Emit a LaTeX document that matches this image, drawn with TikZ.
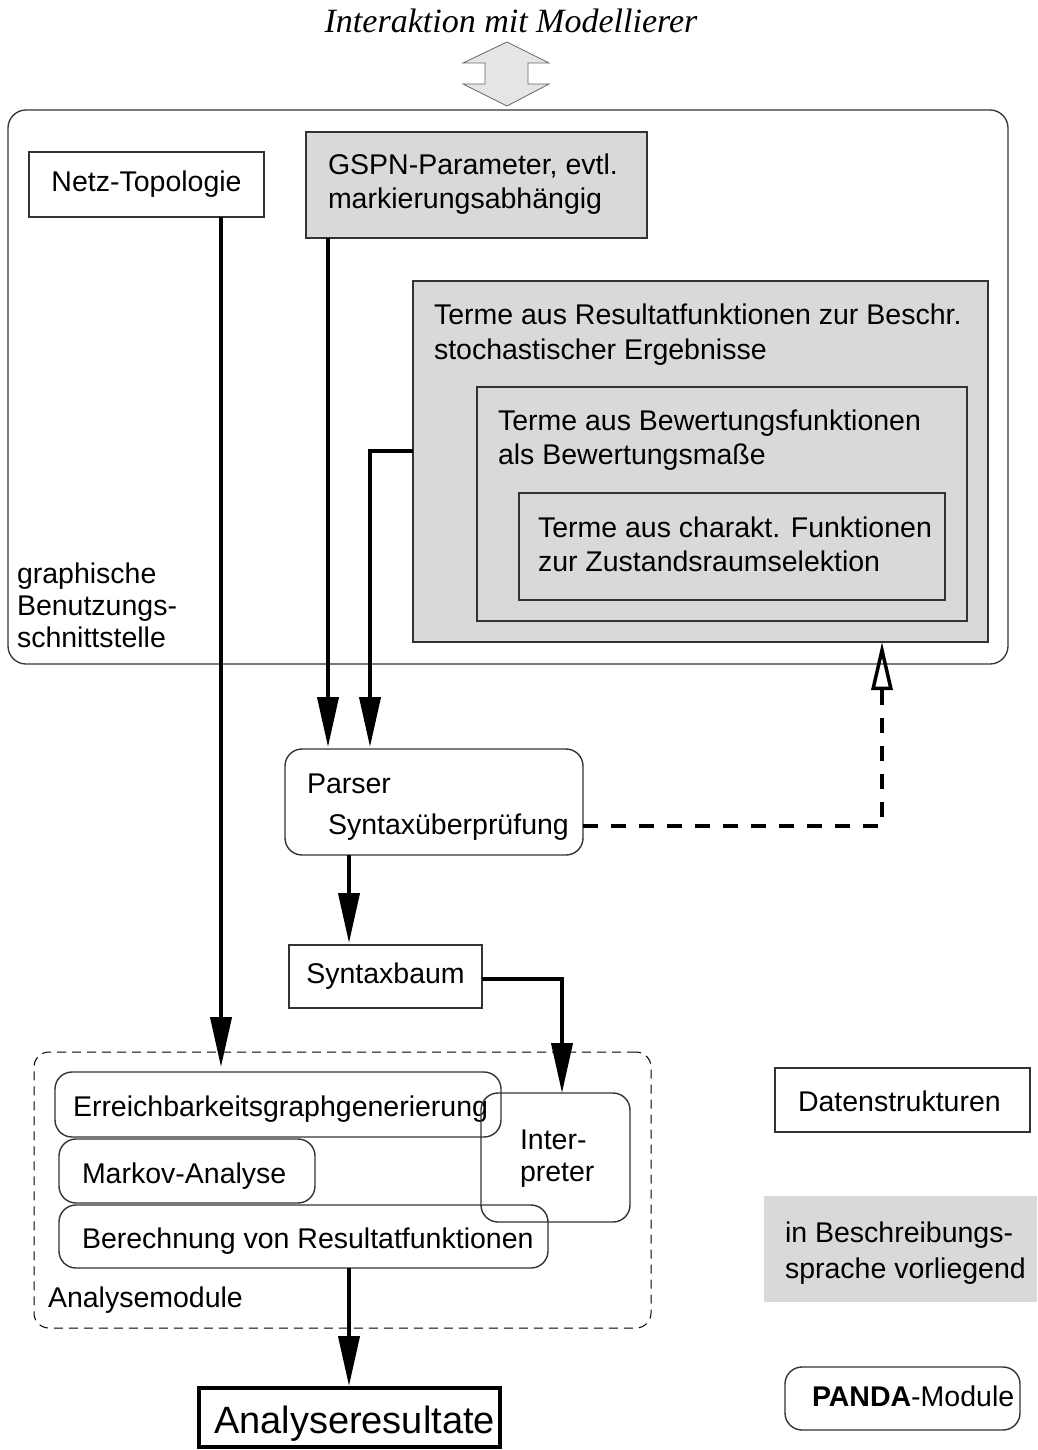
\documentclass[tikz,border=0pt]{standalone}
\usepackage{fontspec}
\setmainfont{Liberation Sans}
\newfontfamily\serifitalic{Liberation Serif}
\usetikzlibrary{arrows.meta}
% multi-line text block whose baseline is that of its first line
\newcommand{\stacked}[1]{\begin{tabular}[t]{@{}l@{}}#1\end{tabular}}

\begin{document}
\begin{tikzpicture}[x=1pt,y=-1pt,
  every node/.style={font=\fontsize{28.5}{34}\selectfont, inner sep=0pt, outer sep=0pt},
  frame/.style={draw=black!80, line width=1.4pt, rectangle, anchor=north west},
  shaded/.style={frame, fill=black!15},
  module/.style={frame, rounded corners=17pt},
  txt/.style={anchor=base west},
  flow/.style={line width=4pt, line join=miter, -{Triangle[length=50pt,width=21pt]}},
  feedback/.style={line width=3.5pt, dash pattern=on 15pt off 13pt,
                   -{Triangle[open,length=48pt,width=21pt]}},
]
\useasboundingbox (0,0) rectangle (1037,1450);

% ---- interaction with the modeller
\node[font=\serifitalic\itshape\fontsize{34}{38}\selectfont, anchor=base] (title) at (511,33) {Interaktion mit Modellierer};
\draw[fill=black!10, draw=black!60, line width=0.8pt]
  (507,42) -- (549,63) -- (528,63) -- (528,84) -- (549,84) -- (507,106)
  -- (463,84) -- (485,84) -- (485,63) -- (463,63) -- cycle;

% ---- graphical user interface
\node[frame, rounded corners=18pt, line width=1.3pt, minimum width=1000pt, minimum height=554pt] (gui) at (8,110) {};
\node[txt, font=\fontsize{28.5}{32}\selectfont] (guiText) at (17,583) {\stacked{graphische\\Benutzungs-\\schnittstelle}};

\node[frame, minimum width=235pt, minimum height=65pt] (netz) at (29,152) {Netz-Topologie};

\node[shaded, minimum width=341pt, minimum height=106pt] (gspn) at (306,132) {};
\node[txt] (gspnText) at (328,175) {\stacked{GSPN-Parameter, evtl.\\markierungsabhängig}};

\node[shaded, minimum width=575pt, minimum height=361pt] (terme) at (413,281) {};
\node[txt, font=\fontsize{28.5}{35}\selectfont] (termeText) at (434,324) {\stacked{Terme aus Resultatfunktionen zur Beschr.\\stochastischer Ergebnisse}};
\node[shaded, minimum width=490pt, minimum height=234pt] (bewert) at (477,387) {};
\node[txt] (bewertText) at (498,430) {\stacked{Terme aus Bewertungsfunktionen\\als Bewertungsmaße}};
\node[shaded, minimum width=426pt, minimum height=107pt] (charakt) at (519,493) {};
\node[txt] (charaktText) at (538,537) {\stacked{Terme aus charakt. Funktionen\\zur Zustandsraumselektion}};

% ---- parser and syntax tree
\node[module, minimum width=298pt, minimum height=106pt] (parser) at (285,749) {};
\node[txt] (parserText) at (307,793) {Parser};
\node[txt] (checkText) at (328,834) {Syntaxüberprüfung};

\node[frame, minimum width=193pt, minimum height=63pt] (baum) at (289,945) {Syntaxbaum};

% ---- analysis modules
\node[frame, draw=black, rounded corners=15pt, line width=1pt, dash pattern=on 9pt off 6pt,
      minimum width=617pt, minimum height=276pt] (amod) at (34,1052) {};
\node[txt] (amodText) at (48,1307) {Analysemodule};

\node[module, minimum width=446pt, minimum height=65pt] (erreich) at (55,1072) {};
\node[txt] (erreichText) at (73,1116) {Erreichbarkeitsgraphgenerierung};
\node[module, minimum width=256pt, minimum height=64pt] (markov) at (59,1139) {};
\node[txt] (markovText) at (82,1183) {Markov-Analyse};
\node[module, minimum width=489pt, minimum height=63pt] (berech) at (59,1205) {};
\node[txt] (berechText) at (82,1248) {Berechnung von Resultatfunktionen};
\node[module, minimum width=149pt, minimum height=129pt] (interp) at (481,1093) {};
\node[txt, font=\fontsize{28.5}{32}\selectfont] (interpText) at (520,1149) {\stacked{Inter-\\preter}};

% ---- results
\node[draw=black, line width=4pt, rectangle, anchor=north west,
      minimum width=301pt, minimum height=59pt] (result) at (199,1388) {};
\node[txt, font=\fontsize{38}{42}\selectfont] (resultText) at (214,1433) {Analyseresultate};

% ---- legend
\node[frame, minimum width=255pt, minimum height=64pt] (legData) at (775,1068) {};
\node[txt] (legDataText) at (798,1111) {Datenstrukturen};
\node[fill=black!15, rectangle, anchor=north west, minimum width=273pt, minimum height=106pt] (legDesc) at (764,1196) {};
\node[txt, font=\fontsize{28.5}{36}\selectfont] (legDescText) at (785,1242) {\stacked{in Beschreibungs-\\sprache vorliegend}};
\node[module, minimum width=235pt, minimum height=63pt] (legPanda) at (785,1367) {};
\node[txt] (legPandaText) at (812,1406) {\textbf{PANDA}-Module};

% ---- connectors
\coordinate (netzX) at (221,0);
\coordinate (gspnX) at (328,0);
\coordinate (termeTurn) at (370,451);
\coordinate (midX) at (349,0);
\coordinate (baumX) at (562,0);
\coordinate (backTurn) at (882,826);

\draw[flow, shorten >=5pt] (netz.south -| netzX) -- (erreich.north -| netzX);
\draw[flow, shorten >=2pt] (gspn.south -| gspnX) -- (parser.north -| gspnX);
\draw[flow, shorten >=2pt] (terme.west |- termeTurn) -- (termeTurn) -- (parser.north -| termeTurn);
\draw[flow, shorten >=2pt] (parser.south -| midX) -- (baum.north -| midX);
\draw[flow] (baum.east |- 0,979) -| (interp.north -| baumX);
\draw[flow, shorten >=2pt] (berech.south -| midX) -- (result.north -| midX);
\draw[feedback] (parser.east |- backTurn) -- (backTurn) -- (terme.south -| backTurn);

\end{tikzpicture}
\end{document}
